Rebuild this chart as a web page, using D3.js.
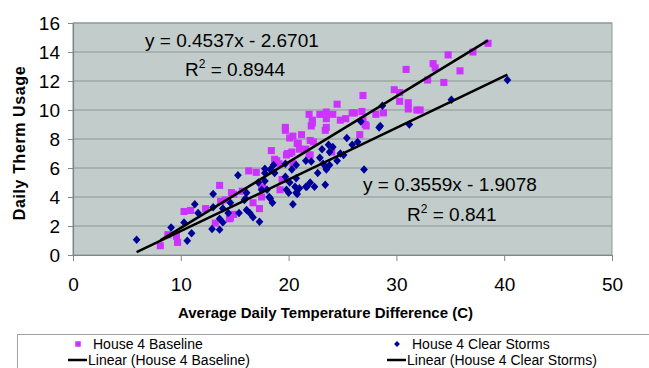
<!DOCTYPE html>
<html>
<head>
<meta charset="utf-8">
<script src="https://cdn.jsdelivr.net/npm/d3@7"></script>
<style>
  body { margin: 0; background: #fff; }
  svg { display: block; font-family: 'Liberation Sans', Arial, sans-serif; }
</style>
</head>
<body>
<div id="chart"></div>
<script>
// House 4 Baseline: [avg daily temp difference (C), daily therm usage]
const baseline = [
  [8.1, 0.64], [8.8, 1.4], [9.6, 1.3], [9.7, 0.87], [10.3, 3.0], [10.9, 3.07], [12.3, 3.2], [13.2, 2.2],
  [13.6, 4.8], [13.7, 3.7], [14.5, 2.5], [14.6, 2.55], [14.7, 4.3], [14.9, 2.8], [14.1, 3.8], [14.9, 4.2],
  [15.7, 4.4], [16.3, 5.8], [17.0, 5.7], [16.7, 3.6], [17.3, 3.2], [17.5, 4.7], [17.5, 4.0], [17.6, 4.6],
  [18.4, 7.2], [18.7, 6.6], [18.9, 6.5], [19.1, 6.3], [19.2, 4.5], [19.4, 5.2], [19.7, 8.6], [19.7, 8.8],
  [19.8, 6.9], [19.9, 7.0], [20.1, 8.07], [20.1, 7.0], [20.3, 7.1], [20.4, 8.2], [20.4, 6.3], [20.8, 7.7],
  [20.9, 7.7], [21.0, 7.3], [21.2, 8.3], [21.6, 7.3], [21.9, 6.9], [21.9, 9.7], [22.0, 7.9], [22.0, 6.9],
  [22.1, 8.9], [22.2, 9.3], [22.2, 9.1], [22.3, 7.8], [22.9, 9.7], [23.4, 8.6], [23.5, 9.86], [23.5, 9.4],
  [23.5, 8.8], [24.0, 7.1], [24.1, 9.7], [24.5, 10.4], [24.8, 9.3], [25.3, 9.4], [25.9, 9.8], [26.1, 9.8],
  [26.6, 8.3], [26.8, 9.9], [26.9, 11.0], [26.9, 9.3], [27.1, 9.0], [27.2, 8.9], [28.1, 9.7], [28.8, 9.8],
  [29.8, 11.4], [30.3, 11.2], [30.3, 10.6], [30.9, 12.8], [31.1, 10.5], [31.1, 10.07], [31.9, 10.0], [32.2, 10.0],
  [32.9, 12.07], [33.4, 13.2], [33.6, 12.9], [34.4, 11.9], [34.8, 13.8], [35.9, 12.7], [37.1, 14.0], [38.5, 14.6]
];

// House 4 Clear Storms
const clearStorms = [
  [5.9, 1.05], [9.1, 1.9], [10.3, 2.25], [10.6, 0.99], [11.0, 1.5], [11.3, 3.5], [11.6, 2.9], [12.9, 1.8],
  [13.0, 4.2], [13.0, 3.3], [13.6, 1.75], [13.6, 2.5], [13.9, 2.25], [13.9, 3.2], [14.4, 2.9], [14.6, 3.6],
  [15.3, 5.5], [15.4, 2.9], [16.0, 3.9], [16.1, 3.1], [16.1, 4.3], [15.9, 3.8], [16.4, 2.9], [16.7, 2.6],
  [17.2, 5.0], [17.3, 2.3], [17.5, 4.5], [17.8, 5.65], [17.8, 5.1], [17.8, 5.95], [18.0, 4.5], [18.2, 4.0],
  [18.3, 5.9], [18.3, 3.9], [18.5, 3.6], [18.6, 6.2], [18.7, 5.65], [19.7, 6.3], [19.7, 5.4], [19.8, 4.5],
  [20.0, 4.3], [20.1, 5.0], [20.3, 5.9], [20.4, 3.5], [20.6, 4.7], [20.7, 6.2], [20.7, 5.3], [20.7, 4.3],
  [20.8, 4.2], [21.0, 4.6], [21.6, 6.5], [21.6, 4.7], [21.7, 4.7], [22.0, 5.0], [22.1, 6.45], [22.4, 4.7],
  [22.7, 5.65], [22.9, 6.7], [23.1, 7.3], [23.2, 6.3], [23.4, 4.85], [23.5, 6.0], [23.5, 5.9], [23.7, 7.6],
  [23.8, 7.1], [23.8, 6.2], [24.1, 7.45], [24.5, 6.5], [24.8, 7.0], [25.1, 6.9], [25.4, 8.07], [25.9, 7.6],
  [26.4, 7.8], [26.7, 9.2], [27.0, 5.9], [28.4, 8.8], [28.5, 8.9], [28.7, 10.3], [31.2, 9.0], [35.1, 10.7],
  [40.3, 12.07]
];

// trendline coefficients [slope, intercept] and R^2
const baselineFit = [0.4537, -2.6701];
const stormsFit = [0.3559, -1.9078];
const fitLabels = ['y = 0.4537x - 2.6701', 'y = 0.3559x - 1.9078'];
const r2Labels = ['0.8944', '0.841'];

const xTicks = [0, 10, 20, 30, 40, 50];
const yTicks = [0, 2, 4, 6, 8, 10, 12, 14, 16];
const legendLabels = ['House 4 Baseline', 'House 4 Clear Storms', 'Linear (House 4 Baseline)', 'Linear (House 4 Clear Storms)'];

const width = 649, height = 368;
const margin = { left: 73, right: 37, top: 23, bottom: 113 };

const svg = d3.select('#chart').append('svg').attr('width', width).attr('height', height);

const x = d3.scaleLinear().domain([0, 50]).range([margin.left, width - margin.right]);
const y = d3.scaleLinear().domain([0, 16]).range([height - margin.bottom, margin.top]);

// plot area
svg.append('rect')
  .attr('x', x(0)).attr('y', y(16))
  .attr('width', x(50) - x(0)).attr('height', y(0) - y(16))
  .attr('fill', '#c2cdcb')
  .attr('stroke', '#8f9a98');

svg.append('g')
  .selectAll('line')
  .data(yTicks.slice(1))
  .enter()
  .append('line')
  .attr('x1', x(0)).attr('x2', x(50))
  .attr('y1', function (d) { return y(d); })
  .attr('y2', function (d) { return y(d); })
  .attr('stroke', '#8c9795')
  .attr('stroke-width', 1.2);

// axes
const yAxis = svg.append('g')
  .attr('transform', 'translate(' + x(0) + ',0)')
  .call(d3.axisLeft(y).tickValues(yTicks).tickSize(5).tickPadding(8).tickSizeOuter(0));
const xAxis = svg.append('g')
  .attr('transform', 'translate(0,' + y(0) + ')')
  .call(d3.axisBottom(x).tickValues(xTicks).tickSize(6).tickPadding(17).tickSizeOuter(0));

[xAxis, yAxis].forEach(function (a) {
  a.select('.domain').attr('stroke', '#7f8886').attr('stroke-width', 1.2);
  a.selectAll('.tick line').attr('stroke', '#7f8886');
  a.selectAll('.tick text').attr('fill', '#000').style('font-size', '19px').style('font-family', "'Liberation Sans', Arial, sans-serif");
});

svg.append('text')
  .attr('x', (x(0) + x(50)) / 2 - 17).attr('y', 318)
  .attr('text-anchor', 'middle')
  .style('font-size', '15px').style('font-weight', 'bold')
  .text('Average Daily Temperature Difference (C)');

svg.append('text')
  .attr('transform', 'translate(25,' + ((y(0) + y(16)) / 2 + 4) + ') rotate(-90)')
  .attr('text-anchor', 'middle')
  .style('font-size', '16px').style('font-weight', 'bold')
  .style('letter-spacing', '0.6px')
  .text('Daily Therm Usage');

// markers
const squareSym = d3.symbol().type(d3.symbolSquare).size(50);
const diamondSym = d3.symbol().type(d3.symbolDiamond2).size(38);

svg.append('g')
  .selectAll('path')
  .data(baseline)
  .enter()
  .append('path')
  .attr('d', squareSym)
  .attr('transform', function (d) { return 'translate(' + x(d[0]) + ',' + y(d[1]) + ')'; })
  .attr('fill', '#cc33ff');

svg.append('g')
  .selectAll('path')
  .data(clearStorms)
  .enter()
  .append('path')
  .attr('d', diamondSym)
  .attr('transform', function (d) { return 'translate(' + x(d[0]) + ',' + y(d[1]) + ') scale(1,1.1)'; })
  .attr('fill', '#000099');

// trendlines over each series' x range
const fits = [[baselineFit, baseline], [stormsFit, clearStorms]];
svg.append('g')
  .selectAll('line')
  .data(fits)
  .enter()
  .append('line')
  .attr('x1', function (d) { return x(d3.min(d[1], function (p) { return p[0]; })); })
  .attr('x2', function (d) { return x(d3.max(d[1], function (p) { return p[0]; })); })
  .attr('y1', function (d) { return y(d[0][0] * d3.min(d[1], function (p) { return p[0]; }) + d[0][1]); })
  .attr('y2', function (d) { return y(d[0][0] * d3.max(d[1], function (p) { return p[0]; }) + d[0][1]); })
  .attr('stroke', '#000')
  .attr('stroke-width', 2.5);

// equation labels
const eqPos = [[145, 47, 185, 76], [363, 191, 407, 221]];
eqPos.forEach(function (p, i) {
  svg.append('text').attr('x', p[0]).attr('y', p[1]).style('font-size', '19px').text(fitLabels[i]);
  const r = svg.append('text').attr('x', p[2]).attr('y', p[3]).style('font-size', '19px');
  r.append('tspan').text('R');
  r.append('tspan').attr('dy', -8).style('font-size', '12px').text('2');
  r.append('tspan').attr('dy', 8).text(' = ' + r2Labels[i]);
});

// legend
svg.append('rect')
  .attr('x', 17.5).attr('y', 334.5)
  .attr('width', 660).attr('height', 60)
  .attr('fill', '#fff')
  .attr('stroke', '#a0a0a0');

const legendCols = [68, 387];
const legend = svg.append('g').style('font-size', '14px');
legendLabels.forEach(function (label, i) {
  const cx = legendCols[i % 2];
  const cy = i < 2 ? 344 : 360;
  if (i < 2) {
    legend.append('path')
      .attr('d', i === 0 ? d3.symbol().type(d3.symbolSquare).size(30)() : d3.symbol().type(d3.symbolDiamond2).size(22)())
      .attr('transform', 'translate(' + (cx + 10) + ',' + cy + ')')
      .attr('fill', i === 0 ? '#cc33ff' : '#000099');
  } else {
    legend.append('line')
      .attr('x1', cx).attr('x2', cx + 19)
      .attr('y1', cy).attr('y2', cy)
      .attr('stroke', '#000').attr('stroke-width', 2.5);
  }
  legend.append('text')
    .attr('x', i < 2 ? cx + 25 : cx + 20)
    .attr('y', cy + 5)
    .text(label);
});
</script>
</body>
</html>
